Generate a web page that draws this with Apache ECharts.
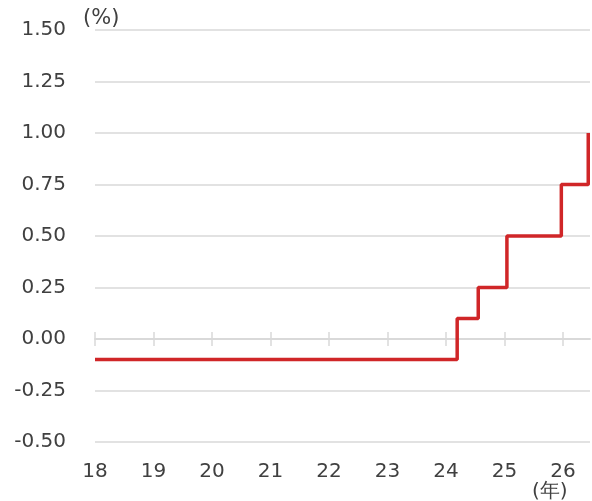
<!DOCTYPE html>
<html>
<head>
<meta charset="utf-8">
<script src="https://cdn.jsdelivr.net/npm/echarts@6/dist/echarts.min.js"></script>
<style>html,body{margin:0;padding:0;background:#fff}#c{width:592px;height:501px}</style>
</head>
<body>
<div id="c"></div>
<script>
// Policy rate step changes (year as decimal, rate in %)
const dates = [2018.0, 2024.19, 2024.55, 2025.04, 2025.97, 2026.43];
const rates = [-0.1, 0.1, 0.25, 0.5, 0.75, 1.0];
const yearTicks = [2018, 2019, 2020, 2021, 2022, 2023, 2024, 2025, 2026];
const yUnit = '(%)';
const xUnit = '(年)';

const X_MIN = 2018, X_MAX = 2026.46;
const Y_MIN = -0.5, Y_MAX = 1.5, Y_STEP = 0.25;
const font = 'DejaVu Sans, Verdana, sans-serif';
const gridCol = '#d9d9d9';
const textCol = '#404040';

const chart = echarts.init(document.getElementById('c'));
const baseX = {
  type: 'value', min: X_MIN, max: X_MAX, splitLine: {show: false}
};
chart.setOption({
  animation: false,
  grid: {left: 95, right: 2, top: 30, bottom: 59, containLabel: false},
  xAxis: [
    Object.assign({}, baseX, {
      position: 'bottom',
      axisLine: {show: false, onZero: false},
      axisTick: {show: false},
      axisLabel: {
        customValues: yearTicks,
        formatter: v => String(Math.round(v) - 2000),
        color: textCol, fontSize: 20, fontFamily: font, margin: 20
      }
    }),
    Object.assign({}, baseX, {
      position: 'bottom',
      axisLine: {show: true, onZero: true, onZeroAxisIndex: 0, lineStyle: {color: gridCol, width: 1.5}},
      axisTick: {show: true, customValues: yearTicks, length: 7, lineStyle: {color: gridCol, width: 1.5}},
      axisLabel: {show: false}
    }),
    Object.assign({}, baseX, {
      position: 'top',
      axisLine: {show: true, onZero: true, onZeroAxisIndex: 1, lineStyle: {color: gridCol, width: 1.5}},
      axisTick: {show: true, customValues: yearTicks, length: 7, lineStyle: {color: gridCol, width: 1.5}},
      axisLabel: {show: false}
    })
  ],
  yAxis: [{
    type: 'value', min: Y_MIN, max: Y_MAX, interval: Y_STEP,
    axisLine: {show: false}, axisTick: {show: false},
    axisLabel: {
      formatter: v => v.toFixed(2),
      color: textCol, fontSize: 20, fontFamily: font, margin: 29
    },
    splitLine: {lineStyle: {color: gridCol, width: 1.5}}
  }, {
    type: 'value', min: Y_MIN, max: Y_MAX, interval: Y_STEP, position: 'left',
    axisLine: {show: false}, axisTick: {show: false},
    axisLabel: {show: false}, splitLine: {show: false}
  }],
  graphic: [
    {type: 'text', left: 83, top: 8, style: {text: yUnit, fill: textCol, fontSize: 21, fontFamily: font}},
    {type: 'text', left: 532, top: 482, style: {text: xUnit, fill: textCol, fontSize: 20, fontFamily: font}}
  ],
  series: [{
    type: 'line', xAxisIndex: 0, yAxisIndex: 0, step: 'end', showSymbol: false,
    data: dates.map((d, i) => [d, rates[i]]),
    lineStyle: {color: '#d02628', width: 3.5},
    z: 5
  }]
});
</script>
</body>
</html>
